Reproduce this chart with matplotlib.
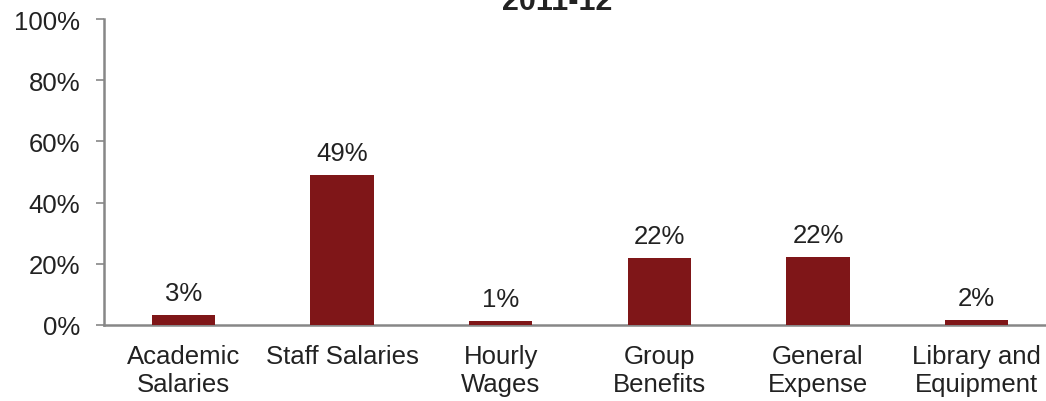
import matplotlib.pyplot as plt
import numpy as np

plt.rcParams['font.family'] = ['Liberation Sans', 'DejaVu Sans']

# data
categories = ["Academic\nSalaries", "Staff Salaries", "Hourly\nWages",
              "Group\nBenefits", "General\nExpense", "Library and\nEquipment"]
values = [3.3, 49.0, 1.3, 21.9, 22.2, 1.6]
value_labels = ["3%", "49%", "1%", "22%", "22%", "2%"]
yticks = [0, 20, 40, 60, 80, 100]
title = "2011-12"

fig = plt.figure(figsize=(10.46, 4.02), dpi=100)
ax = fig.add_axes([104 / 1046, 76 / 402, 952 / 1046, 306 / 402])

x = np.arange(len(categories))
ax.bar(x, values, width=0.4, color='#7f1618', zorder=3)

for xi, v, lab in zip(x, values, value_labels):
    ax.annotate(lab, (xi, v), xytext=(0, 7), textcoords='offset points',
                ha='center', va='bottom', fontsize=18.5, color='#222222')

ax.set_xlim(-0.5, len(categories) - 0.5)
ax.set_ylim(0, 100)
ax.set_yticks(yticks)
ax.set_yticklabels([f"{t}%" for t in yticks])
ax.set_xticks(x)
ax.set_xticklabels(categories, linespacing=1.2)

ax.tick_params(axis='y', direction='out', length=6, width=1.2, color='#878787',
               labelsize=18.5, labelcolor='#222222', pad=11)
ax.tick_params(axis='x', length=0, labelsize=18.5, labelcolor='#222222', pad=14)

for side in ('top', 'right'):
    ax.spines[side].set_visible(False)
for side in ('left', 'bottom'):
    ax.spines[side].set_color('#878787')
    ax.spines[side].set_linewidth(1.8)

fig.text(557 / 1046, 1 - 10 / 402, title, ha='center', va='baseline',
         fontsize=22, fontweight='bold', color='#222222')

fig.savefig("out.png", dpi=100)
